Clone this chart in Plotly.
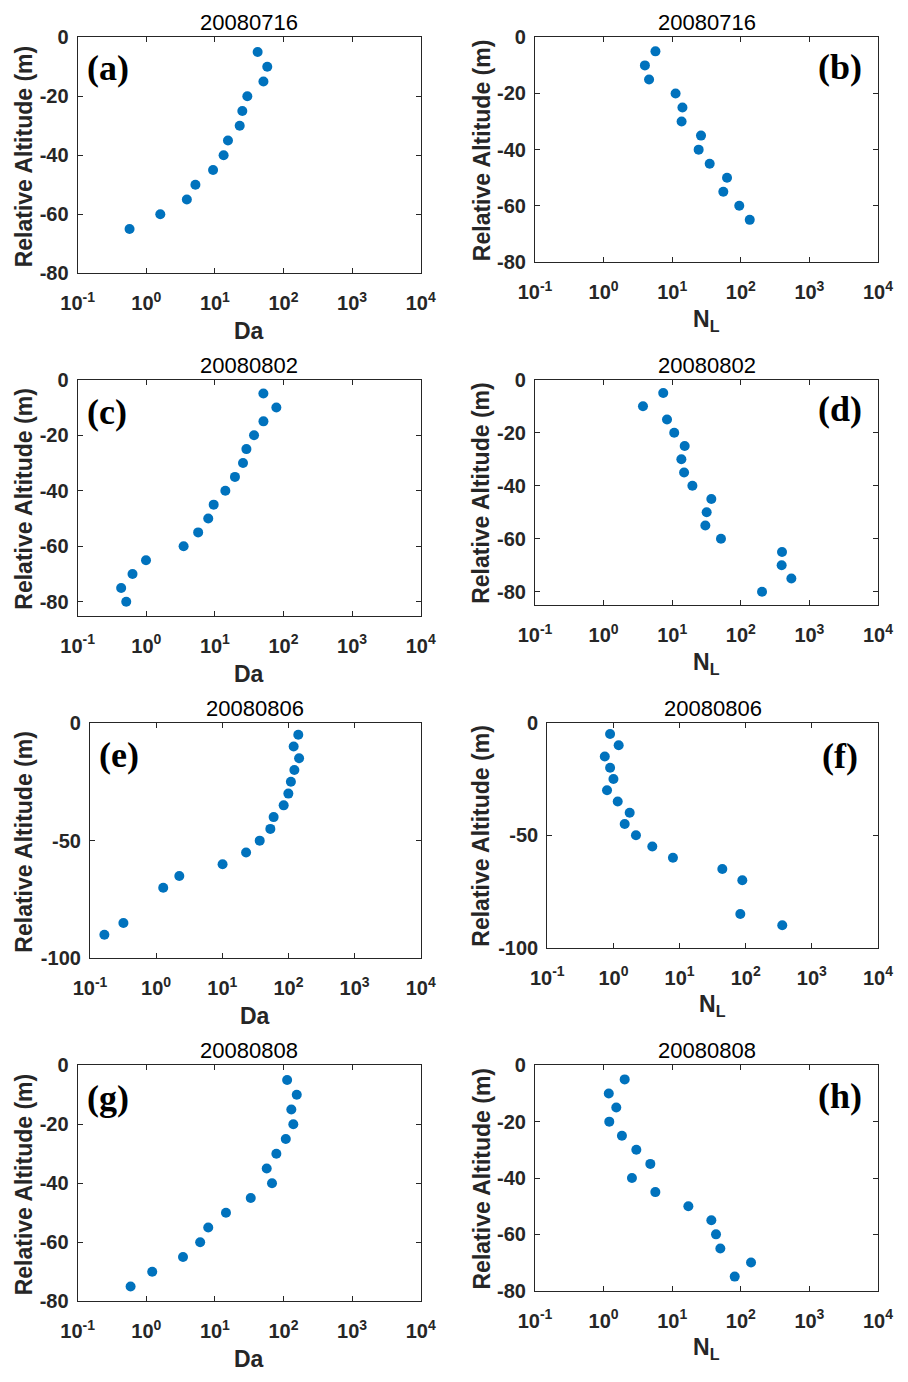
import plotly.graph_objects as go

# ---------------- data ----------------
alt_0716 = [-5, -10, -15, -20, -25, -30, -35, -40, -45, -50, -55, -60, -65]
da_0716 = [42, 58, 51, 29.7, 25.1, 23, 15.5, 13.4, 9.4, 5.2, 3.9, 1.6, 0.57]
nl_0716 = [5.7, 4.0, 4.6, 11.2, 14.1, 13.7, 26.3, 24.3, 35.2, 63, 55.6, 95, 135]

alt_0802 = [-5, -10, -15, -20, -25, -30, -35, -40, -45, -50, -55, -60, -65, -70, -75, -80]
da_0802 = [50.9, 78.7, 51, 37.2, 28.8, 25.7, 19.6, 14.2, 9.6, 8.0, 5.7, 3.5, 0.99, 0.63, 0.43, 0.51]
nl_0802 = [7.4, 3.75, 8.4, 10.7, 15.2, 13.6, 14.9, 19.7, 37.2, 31.8, 30.4, 51.4, 399, 394, 546, 204]

alt_0806 = [-5, -10, -15, -20, -25, -30, -35, -40, -45, -50, -55, -60, -65, -70, -85, -90]
da_0806 = [141, 120, 145, 123, 109, 99.8, 84.8, 59.8, 53.3, 36.8, 22.9, 10.1, 2.24, 1.28, 0.32, 0.165]
nl_0806 = [0.89, 1.20, 0.74, 0.89, 1.0, 0.80, 1.16, 1.76, 1.48, 2.19, 3.87, 7.94, 44.3, 88.8, 82.8, 357]

alt_0808 = [-5, -10, -15, -20, -25, -30, -35, -40, -45, -50, -55, -60, -65, -70, -75]
da_0808 = [113, 156, 130, 139, 108, 78.7, 56.9, 68, 33.3, 14.5, 8.0, 6.1, 3.43, 1.22, 0.59]
nl_0808 = [2.03, 1.19, 1.53, 1.21, 1.85, 3.0, 4.8, 2.59, 5.68, 17.2, 37.2, 43.5, 50.3, 141, 81.5]

dates = ["20080716", "20080716", "20080802", "20080802",
         "20080806", "20080806", "20080808", "20080808"]
panel_labels = ["(a)", "(b)", "(c)", "(d)", "(e)", "(f)", "(g)", "(h)"]
x_titles = ["Da", "N<sub>L</sub>"] * 4
y_title = "Relative Altitude (m)"

x_tick_vals = [0.1, 1, 10, 100, 1000, 10000]
x_tick_text = ["10<sup>-1</sup>", "10<sup>0</sup>", "10<sup>1</sup>",
               "10<sup>2</sup>", "10<sup>3</sup>", "10<sup>4</sup>"]
y_ticks_80 = [0, -20, -40, -60, -80]
y_ticks_100 = [0, -50, -100]

series = [
    (da_0716, alt_0716), (nl_0716, alt_0716),
    (da_0802, alt_0802), (nl_0802, alt_0802),
    (da_0806, alt_0806), (nl_0806, alt_0806),
    (da_0808, alt_0808), (nl_0808, alt_0808),
]
y_ranges = [[-80, 0], [-80, 0], [-85, 0], [-85, 0],
            [-100, 0], [-100, 0], [-80, 0], [-80, 0]]
y_tickvals = [y_ticks_80, y_ticks_80, y_ticks_80, y_ticks_80,
              y_ticks_100, y_ticks_100, y_ticks_80, y_ticks_80]

# ---------------- layout geometry (pixels) ----------------
W, H = 908, 1382
boxes = [  # left, right, top, bottom
    (77.7, 420.7, 37.3, 273.3), (535, 878, 37.3, 262),
    (77.7, 420.7, 379.7, 615.7), (535, 878, 379.7, 605),
    (90, 420.7, 723, 958.3), (547.3, 878, 722.7, 947.7),
    (77.7, 420.7, 1065.3, 1301.3), (535, 878, 1065.3, 1290.7),
]
label_pos = [(108, 68), (840, 66.5), (107, 411.5), (840, 409),
             (118.7, 755), (840, 756), (108, 1098), (840, 1096)]
ytitle_x = [24, 481.5, 24, 481.5, 24, 481.5, 24, 481.5]


def px(x):
    return x / W


def py(y):
    return 1 - y / H


AX_COLOR = "#262626"
BLUE = "#0072BD"
SANS = "Liberation Sans, Arial, sans-serif"
SERIF = "Liberation Serif, Times New Roman, serif"

fig = go.Figure()
annotations = []

for i, ((xv, yv), (l, r, t, b)) in enumerate(zip(series, boxes)):
    n = i + 1
    xa = "x" if n == 1 else f"x{n}"
    ya = "y" if n == 1 else f"y{n}"
    fig.add_trace(go.Scatter(
        x=xv, y=yv, mode="markers", xaxis=xa, yaxis=ya,
        marker=dict(color=BLUE, size=10, line=dict(width=0)),
        showlegend=False, hoverinfo="x+y",
    ))
    xkey = "xaxis" if n == 1 else f"xaxis{n}"
    ykey = "yaxis" if n == 1 else f"yaxis{n}"
    fig.update_layout({
        xkey: dict(
            type="log", range=[-1, 4], domain=[px(l), px(r)], anchor=ya,
            tickvals=x_tick_vals, ticktext=x_tick_text, automargin=False,
            showline=True, linecolor=AX_COLOR, linewidth=1.2, mirror="ticks",
            ticks="inside", ticklen=5, tickwidth=1.2, tickcolor=AX_COLOR,
            showgrid=False, zeroline=False, ticklabelstandoff=12,
            tickfont=dict(family=SANS, size=20, color=AX_COLOR, weight="bold"),
        ),
        ykey: dict(
            range=y_ranges[i], domain=[py(b), py(t)], anchor=xa,
            tickvals=y_tickvals[i], ticktext=[str(v) for v in y_tickvals[i]],
            automargin=False,
            showline=True, linecolor=AX_COLOR, linewidth=1.2, mirror="ticks",
            ticks="inside", ticklen=5, tickwidth=1.2, tickcolor=AX_COLOR,
            showgrid=False, zeroline=False, ticklabelstandoff=4,
            tickfont=dict(family=SANS, size=20, color=AX_COLOR, weight="bold"),
        ),
    })
    cx = (l + r) / 2
    # title
    annotations.append(dict(
        text=dates[i], x=px(cx), y=py(t - 14.5), xref="paper", yref="paper",
        showarrow=False, xanchor="center", yanchor="middle",
        font=dict(family=SANS, size=22, color="black"),
    ))
    # x title
    annotations.append(dict(
        text=x_titles[i], x=px(cx), y=py(b + 58), xref="paper", yref="paper",
        showarrow=False, xanchor="center", yanchor="middle",
        font=dict(family=SANS, size=23, color=AX_COLOR, weight="bold"),
    ))
    # y title
    annotations.append(dict(
        text=y_title, x=px(ytitle_x[i]), y=py((t + b) / 2 + 1), xref="paper",
        yref="paper", showarrow=False, xanchor="center", yanchor="middle",
        textangle=-90,
        font=dict(family=SANS, size=23, color=AX_COLOR, weight="bold"),
    ))
    # panel label
    lx, ly = label_pos[i]
    annotations.append(dict(
        text=panel_labels[i], x=px(lx), y=py(ly), xref="paper", yref="paper",
        showarrow=False, xanchor="center", yanchor="middle",
        font=dict(family=SERIF, size=36, color="black", weight="bold"),
    ))

fig.update_layout(
    width=W, height=H,
    margin=dict(l=0, r=0, t=0, b=0, pad=0, autoexpand=False),
    paper_bgcolor="white", plot_bgcolor="white",
    annotations=annotations, showlegend=False,
)

fig.write_html("out.html", config={"displayModeBar": False},
               post_script="document.body.style.margin='0';")
